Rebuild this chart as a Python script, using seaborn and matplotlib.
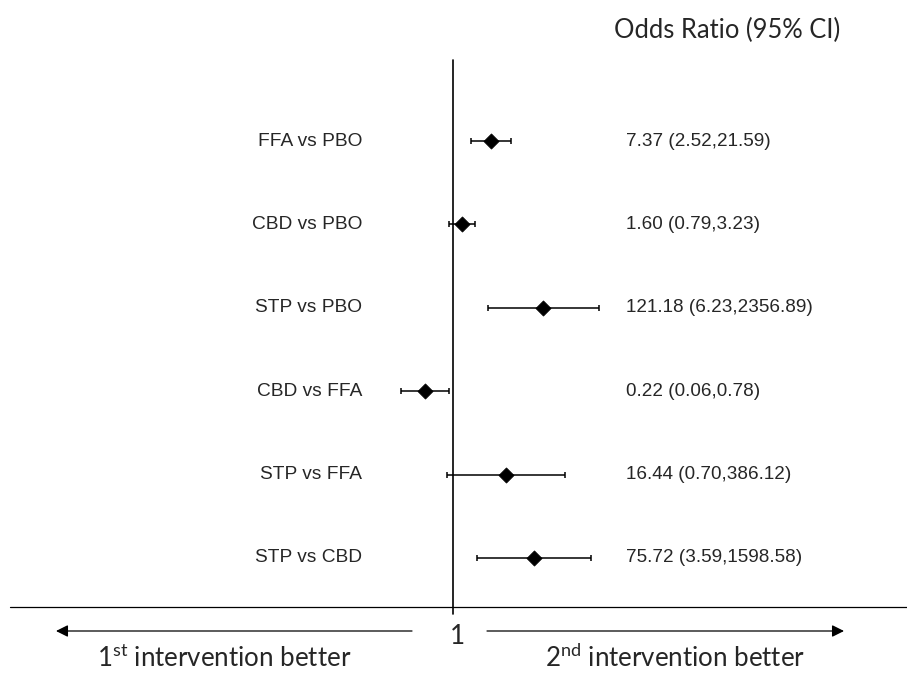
import numpy as np
import pandas as pd
import matplotlib
matplotlib.use("Agg")
import matplotlib.pyplot as plt
import matplotlib.transforms as mtransforms
import seaborn as sns

# ---- data ----
comparisons = ["FFA vs PBO", "CBD vs PBO", "STP vs PBO", "CBD vs FFA", "STP vs FFA", "STP vs CBD"]
odds_ratio = [7.37, 1.60, 121.18, 0.22, 16.44, 75.72]
ci_lower = [2.52, 0.79, 6.23, 0.06, 0.70, 3.59]
ci_upper = [21.59, 3.23, 2356.89, 0.78, 386.12, 1598.58]
header = "Odds Ratio (95% CI)"
left_label = "1$^{\\mathregular{st}}$ intervention better"
right_label = "2$^{\\mathregular{nd}}$ intervention better"

df = pd.DataFrame({"comparison": comparisons, "or": odds_ratio,
                   "lo": ci_lower, "hi": ci_upper})
df["pos"] = np.arange(len(df))

sns.set_theme(style="white")
plt.rcParams["font.family"] = ["Liberation Sans", "DejaVu Sans"]

W, H = 907, 674
fig = plt.figure(figsize=(W / 100, H / 100), dpi=100)
ax = fig.add_axes([0, 0, 1, 1])

# pixel mapping: x_px = 453.5 + 43 * log10(v); row_px = 141 + 83.4 * i
cx, sx = 453.5, 43.0
ax.set_xscale("log")
ax.set_xlim(10 ** (-cx / sx), 10 ** ((W - cx) / sx))
r0, dr = 141.0, 83.4
ax.set_ylim((H - r0) / dr, -r0 / dr)
ax.axis("off")

def fx(px):
    return px / W

def fy(py):
    return 1 - py / H

blend = mtransforms.blended_transform_factory(ax.transAxes, ax.transData)

# CI bars
ax.errorbar(df["or"], df["pos"],
            xerr=[df["or"] - df["lo"], df["hi"] - df["or"]],
            fmt="none", ecolor="black", elinewidth=1.1, capsize=2.4, capthick=1.1, zorder=2)
# point estimates
sns.scatterplot(data=df, x="or", y="pos", marker="D", s=60, color="black",
                edgecolor="black", linewidth=0.5, ax=ax, zorder=3, legend=False)

# reference vertical line at OR = 1
ax.plot([1, 1], [(60 - r0) / dr, (614 - r0) / dr], color="black", lw=1.2, zorder=1)
# horizontal axis line
ax.plot([fx(10), fx(907)], [fy(607), fy(607)], color="black", lw=0.9,
        transform=ax.transAxes)

# row labels and OR text
for _, r in df.iterrows():
    ax.text(fx(362), r["pos"], r["comparison"], ha="right", va="center",
            fontsize=13.8, transform=blend)
    ax.text(fx(626), r["pos"], f"{r['or']:.2f} ({r['lo']:.2f},{r['hi']:.2f})",
            ha="left", va="center", fontsize=13.6, transform=blend)

calib = ["Lato", "DejaVu Sans"]
# header
ax.text(fx(614), fy(30), header, ha="left", va="center", fontsize=18.4,
        family=calib, transform=ax.transAxes)

# "1" under the line
ax.text(fx(457), fy(636), "1", ha="center", va="center", fontsize=18.8,
        family=calib, transform=ax.transAxes)

# arrows
ax.annotate("", xy=(fx(56), fy(631)), xytext=(fx(412), fy(631)),
            xycoords="axes fraction", textcoords="axes fraction",
            arrowprops=dict(arrowstyle="-|>", color="black", lw=0.9,
                            mutation_scale=18, shrinkA=0, shrinkB=0))
ax.annotate("", xy=(fx(844), fy(631)), xytext=(fx(487), fy(631)),
            xycoords="axes fraction", textcoords="axes fraction",
            arrowprops=dict(arrowstyle="-|>", color="black", lw=0.9,
                            mutation_scale=18, shrinkA=0, shrinkB=0))

# bottom labels
ax.text(fx(97), fy(667), left_label, ha="left", va="baseline", fontsize=18.6,
        family=calib, transform=ax.transAxes)
ax.text(fx(545), fy(667), right_label, ha="left", va="baseline", fontsize=18.6,
        family=calib, transform=ax.transAxes)

fig.savefig("out.png", dpi=100, facecolor="white")
